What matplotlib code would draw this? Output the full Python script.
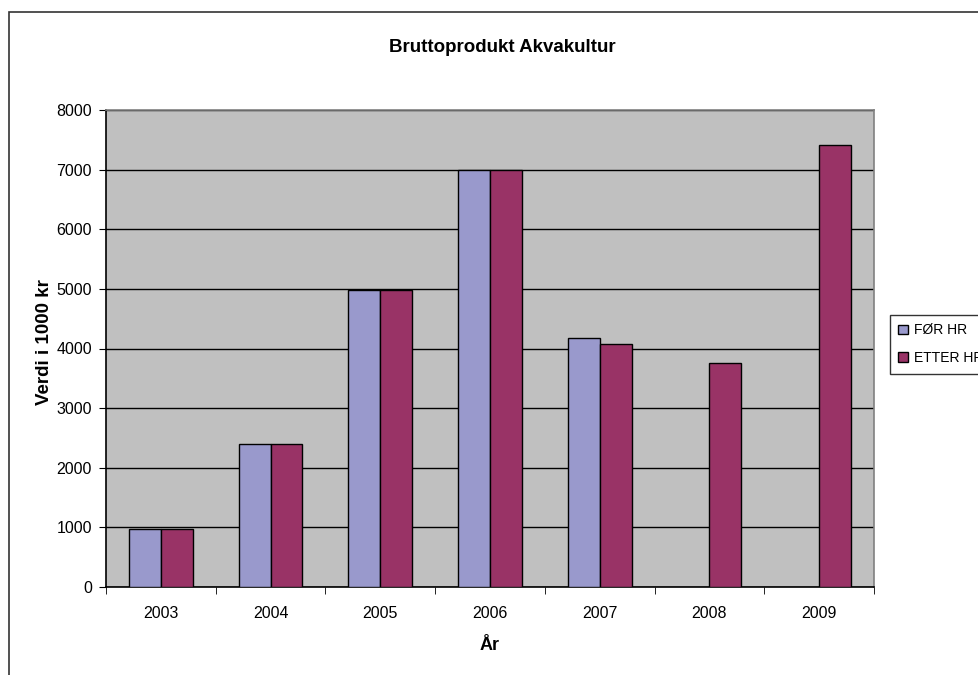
import numpy as np
import matplotlib.pyplot as plt
from matplotlib.patches import Rectangle

# data
years = ['2003', '2004', '2005', '2006', '2007', '2008', '2009']
for_hr = [980, 2390, 4980, 7000, 4180, np.nan, np.nan]
etter_hr = [980, 2390, 4980, 7000, 4080, 3760, 7420]
yticks = [0, 1000, 2000, 3000, 4000, 5000, 6000, 7000, 8000]

plt.rcParams['font.family'] = ['Liberation Sans', 'DejaVu Sans']

fig = plt.figure(figsize=(9.79, 6.75), dpi=100)
# outer chart frame (runs past right and bottom edge, as in the original)
fig.patches.append(Rectangle((9/979, -0.1), 1.2, 1 - 12/675 + 0.1,
                             transform=fig.transFigure, fill=False,
                             edgecolor='#333333', linewidth=1.2))

ax = fig.add_axes([106/979, 1 - 587/675, 768/979, 477/675])
ax.set_facecolor('#C0C0C0')

x = np.arange(len(years))
w = 0.29
ax.bar(x - w/2, for_hr, w, color='#9999CC', edgecolor='black', linewidth=1, label='FØR HR', zorder=3)
ax.bar(x + w/2, etter_hr, w, color='#993366', edgecolor='black', linewidth=1, label='ETTER HR', zorder=3)

ax.set_xlim(-0.5, len(years) - 0.5)
ax.set_ylim(0, 8000)
ax.set_yticks(yticks)
ax.set_yticklabels([str(v) for v in yticks], fontsize=11.5)
ax.yaxis.grid(True, color='black', linewidth=1, zorder=1)
ax.set_axisbelow(True)

# Excel style: labels at centres, ticks at category borders
ax.set_xticks(x)
ax.set_xticklabels(years, fontsize=11.5)
ax.tick_params(axis='x', length=0, pad=14)
ax.set_xticks(np.arange(-0.5, len(years)), minor=True)
ax.tick_params(axis='x', which='minor', length=5, direction='out', color='black')
ax.tick_params(axis='y', length=5, direction='out', color='black', pad=5)

ax.spines['left'].set_color('black')
ax.spines['bottom'].set_color('black')
ax.spines['top'].set_color('#808080')
ax.spines['right'].set_color('#808080')
for s in ax.spines.values():
    s.set_linewidth(1.2)

fig.text(502/979, 1 - 47/675, 'Bruttoprodukt Akvakultur',
         ha='center', va='center', fontsize=13.5, fontweight='bold')
fig.text(490/979, 1 - 646/675, 'År', ha='center', va='center',
         fontsize=13, fontweight='bold')
fig.text(45/979, 1 - 342/675, 'Verdi i 1000 kr', ha='center', va='center',
         rotation=90, fontsize=13.5, fontweight='bold')

leg = fig.legend(loc='upper left', bbox_to_anchor=(890/979, 1 - 315/675),
                 frameon=True, fancybox=False, fontsize=10,
                 handlelength=0.7, handleheight=0.7, handletextpad=0.4,
                 borderpad=0.6, labelspacing=1.0, borderaxespad=0)
leg.get_frame().set_edgecolor('black')
leg.get_frame().set_linewidth(1)

fig.savefig('out.png', dpi=100)
